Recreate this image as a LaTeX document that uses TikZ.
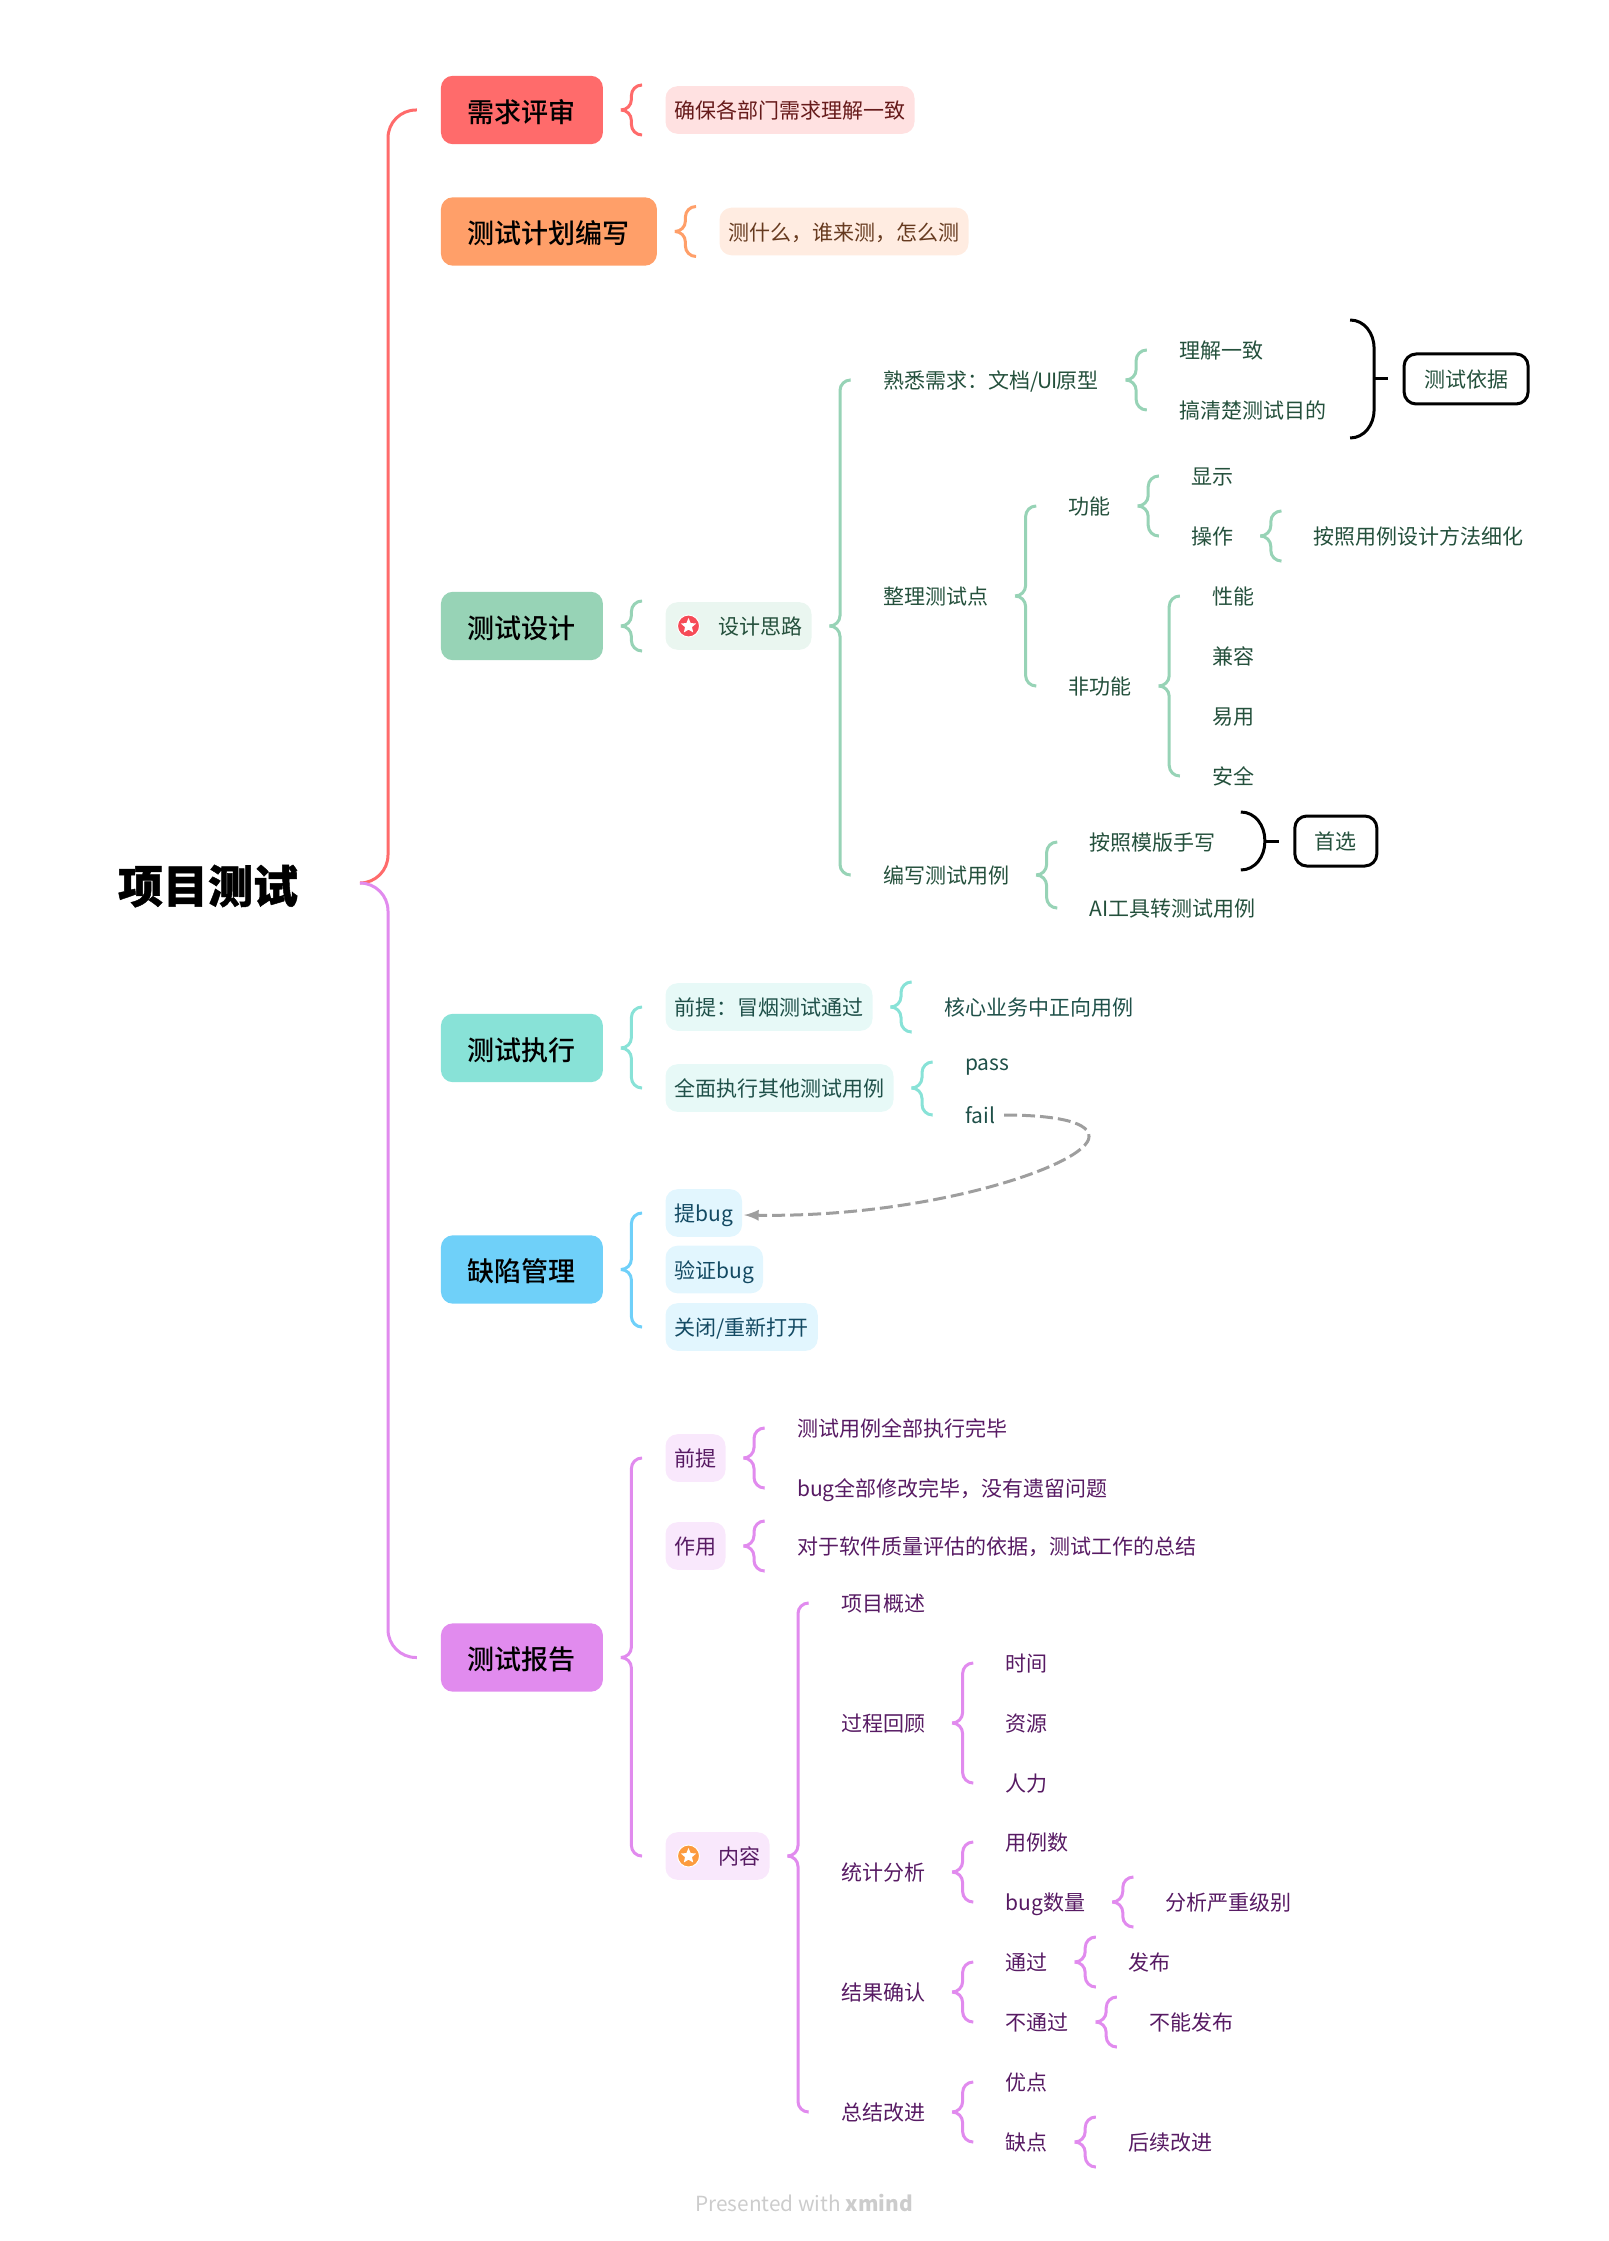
\documentclass[tikz,border=0pt]{standalone}
\usepackage{fontspec}
\setmainfont{Noto Sans CJK SC}
\newfontfamily\topicfont{Noto Sans CJK SC Medium}
\newfontfamily\rootfont[FakeBold=1]{Noto Sans CJK SC Black}
\usetikzlibrary{positioning,arrows}
\usetikzlibrary{calc,shapes.geometric}

\definecolor{redLine}{HTML}{FF6B6B}
\definecolor{redFill}{HTML}{FFE1E1}
\definecolor{redText}{HTML}{661A1A}
\definecolor{orangeLine}{HTML}{FF9F69}
\definecolor{orangeFill}{HTML}{FFECE1}
\definecolor{orangeText}{HTML}{663A1F}
\definecolor{greenLine}{HTML}{97D3B6}
\definecolor{greenFill}{HTML}{EAF6F0}
\definecolor{greenText}{HTML}{24503C}
\definecolor{tealLine}{HTML}{88E2D7}
\definecolor{tealFill}{HTML}{E7F9F7}
\definecolor{tealText}{HTML}{1F5049}
\definecolor{blueLine}{HTML}{6FD0F9}
\definecolor{blueFill}{HTML}{E2F6FE}
\definecolor{blueText}{HTML}{134A63}
\definecolor{purpleLine}{HTML}{E18BEE}
\definecolor{purpleFill}{HTML}{F9E8FC}
\definecolor{purpleText}{HTML}{571A63}
\definecolor{badgeRed}{HTML}{F64B57}
\definecolor{badgeOrange}{HTML}{FC9B3E}

% one half of a brace, from a parent to a child
\newcommand{\arm}[4][0]{%
  \path [flow, draw=#2] (#3.east) ++(9pt,0) -- ++(5.25pt,0) |- ($(#4.west)+(-24,#1)$);}
\newcommand{\solo}[3]{\arm[25]{#1}{#2}{#3}\arm[-25]{#1}{#2}{#3}}
% the black closing brace in front of a label box
\newcommand{\sumbrace}[2]{%
  \path [sumLine] ($(#1.west)+(-54,#2)$) to[out=0,in=90] ($(#1.west)+(-30,#2-28)$)
                  -- ($(#1.west)+(-30,28-#2)$) to[out=-90,in=0] ($(#1.west)+(-54,-#2)$);
  \path [sumLine] ($(#1.west)+(-30,0)$) -- ($(#1.west)+(-16,0)$);}

\begin{document}
\begin{tikzpicture}[x=0.5pt,y=0.5pt]
  \newdimen\dist
  \dist=31.3pt

  \useasboundingbox (0,0) rectangle (1609,-2241);

  \tikzstyle{lift} = [yshift=#1*0.5pt];
  \tikzstyle{rootTitle} = [
    % Just text!
    font=\rootfont\fontsize{22.5pt}{26pt}\selectfont,
    inner xsep=22pt, inner ysep=0pt, outer sep=0pt,
    text height=21.2pt, text depth=1.3pt
  ];
  \tikzstyle{topic} = [
    % The shape:
    rectangle, minimum height=34.2pt, rounded corners=6pt,
    inner xsep=13.5pt, inner ysep=0pt, outer sep=0pt,
    % The filling:
    fill=#1Line,
    % Font:
    font=\topicfont\fontsize{13.5pt}{16pt}\selectfont,
    text height=12.8pt, text depth=0.7pt
  ];
  \tikzstyle{leaf} = [
    % Just text!
    text=#1Text,
    rectangle, minimum height=23.8pt,
    inner xsep=4.5pt, inner ysep=0pt, outer sep=0pt,
    font=\fontsize{10.5pt}{13pt}\selectfont,
    text height=9.6pt, text depth=0.9pt
  ];
  \tikzstyle{chip} = [
    leaf=#1,
    % The shape:
    rounded corners=6pt,
    % The filling:
    fill=#1Fill
  ];
  \tikzstyle{labelBox} = [
    leaf=green,
    % The shape:
    minimum height=25pt, rounded corners=6pt, inner xsep=10pt,
    % The border:
    draw=black, line width=1.5pt,
    text=greenText
  ];
  \tikzstyle{badge} = [
    circle, minimum size=11pt, inner sep=0pt, outer sep=0pt,
    draw=white, line width=0.5pt
  ];
  \tikzstyle{badgeStar} = [
    star, star points=5, star point ratio=2.2, minimum size=8pt, inner sep=0pt,
    fill=white
  ];
  \tikzstyle{flow} = [
    draw = black,
    line width=1.5pt,
    rounded corners=5.25pt
  ];
  \tikzstyle{bigFlow} = [
    draw = black,
    line width=1.5pt,
    rounded corners=14pt
  ];
  \tikzstyle{sumLine} = [
    draw = black,
    line width=1.5pt
  ];
  \tikzstyle{jump} = [
    draw = black!38,
    line width=1.5pt,
    dash pattern=on 6.5pt off 2.5pt,
    -latex
  ];
  \tikzstyle{credit} = [
    font=\fontsize{10.4pt}{13pt}\selectfont,
    text=black!20
  ];

  \node [rootTitle] at (208,-883) (root) {项目测试};

  % The six topics
  \node [topic=red, right = 1.58*\dist of root, lift=773] (review) {需求评审};
  \node [topic=orange, right = 1.58*\dist of root, lift=651.5] (plan) {测试计划编写};
  \node [topic=green, right = 1.58*\dist of root, lift=257] (design) {测试设计};
  \node [topic=teal, right = 1.58*\dist of root, lift=-165] (run) {测试执行};
  \node [topic=blue, right = 1.58*\dist of root, lift=-386.5] (defect) {缺陷管理};
  \node [topic=purple, right = 1.58*\dist of root, lift=-774.5] (report) {测试报告};

  \node [chip=red, right = \dist of review] (agree) {确保各部门需求理解一致};
  \node [chip=orange, right = \dist of plan] (what) {测什么，谁来测，怎么测};

  % Test design
  \node [chip=green, right = \dist of design] (idea) {\hspace*{22pt}设计思路};
  \node [badge, fill=badgeRed, right = 23 of idea.west, anchor=center] (ideaBadge) {};
  \node [badgeStar] at (ideaBadge) (ideaStar) {};
  \node [leaf=green, right = \dist of idea, lift=246] (learn) {熟悉需求：文档/\kern-0.5pt U\kern-0.5pt I\kern-0.5pt 原型};
  \node [leaf=green, right = \dist of idea, lift=30] (points) {整理测试点};
  \node [leaf=green, right = \dist of idea, lift=-249] (write) {编写测试用例};
  \node [leaf=green, right = \dist of learn, lift=30] (same) {理解一致};
  \node [leaf=green, right = \dist of learn, lift=-30] (goal) {搞清楚测试目的};
  \node [labelBox, right = 1.1*\dist of goal, lift=31] (basis) {测试依据};
  \node [leaf=green, right = \dist of points, lift=90] (func) {功能};
  \node [leaf=green, right = \dist of points, lift=-90] (nonfunc) {非功能};
  \node [leaf=green, right = \dist of func, lift=30] (show) {显示};
  \node [leaf=green, right = \dist of func, lift=-30] (act) {操作};
  \node [leaf=green, right = \dist of act] (refine) {按照用例设计方法细化};
  \node [leaf=green, right = \dist of nonfunc, lift=90] (perf) {性能};
  \node [leaf=green, right = \dist of nonfunc, lift=30] (compat) {兼容};
  \node [leaf=green, right = \dist of nonfunc, lift=-30] (ease) {易用};
  \node [leaf=green, right = \dist of nonfunc, lift=-90] (safe) {安全};
  \node [leaf=green, right = \dist of write, lift=33] (hand) {按照模版手写};
  \node [leaf=green, right = \dist of write, lift=-33] (aitool) {AI工具转测试用例};
  \node [labelBox, right = 1.12*\dist of hand, lift=1] (first) {首选};

  % Test run
  \node [chip=teal, right = \dist of run, lift=41] (smoke) {前提：冒烟测试通过};
  \node [chip=teal, right = \dist of run, lift=-40] (full) {全面执行其他测试用例};
  \node [leaf=teal, right = \dist of smoke] (core) {核心业务中正向用例};
  \node [leaf=teal, right = \dist of full, lift=26] (pass) {pass};
  \node [leaf=teal, right = \dist of full, lift=-27] (fail) {fail};

  % Defects
  \node [chip=blue, right = \dist of defect, lift=56.5] (raise) {提bug};
  \node [chip=blue, right = \dist of defect] (verify) {验证bug};
  \node [chip=blue, right = \dist of defect, lift=-57.5] (close) {关闭/重新打开};
  \coordinate [right = 85 of fail.east, lift=-21.5] (bend);

  % Test report
  \node [chip=purple, right = \dist of report, lift=199.5] (premise) {前提};
  \node [chip=purple, right = \dist of report, lift=111.5] (use) {作用};
  \node [chip=purple, right = \dist of report, lift=-198.5] (content) {\hspace*{22pt}内容};
  \node [badge, fill=badgeOrange, right = 23 of content.west, anchor=center] (contentBadge) {};
  \node [badgeStar] at (contentBadge) (contentStar) {};
  \node [leaf=purple, right = \dist of premise, lift=30] (allrun) {测试用例全部执行完毕};
  \node [leaf=purple, right = \dist of premise, lift=-30] (allfix) {bug全部修改完毕，没有遗留问题};
  \node [leaf=purple, right = \dist of use] (basisof) {对于软件质量评估的依据，测试工作的总结};
  \node [leaf=purple, right = \dist of content, lift=253] (outline) {项目概述};
  \node [leaf=purple, right = \dist of content, lift=133] (review2) {过程回顾};
  \node [leaf=purple, right = \dist of content, lift=-16] (stats) {统计分析};
  \node [leaf=purple, right = \dist of content, lift=-136] (result) {结果确认};
  \node [leaf=purple, right = \dist of content, lift=-256] (improve) {总结改进};
  \node [leaf=purple, right = \dist of review2, lift=60] (time) {时间};
  \node [leaf=purple, right = \dist of review2] (resource) {资源};
  \node [leaf=purple, right = \dist of review2, lift=-60] (staff) {人力};
  \node [leaf=purple, right = \dist of stats, lift=30] (cases) {用例数};
  \node [leaf=purple, right = \dist of stats, lift=-30] (bugs) {bug数量};
  \node [leaf=purple, right = \dist of bugs] (level) {分析严重级别};
  \node [leaf=purple, right = \dist of result, lift=30] (ok) {通过};
  \node [leaf=purple, right = \dist of result, lift=-30] (notok) {不通过};
  \node [leaf=purple, right = \dist of ok] (ship) {发布};
  \node [leaf=purple, right = \dist of notok] (noship) {不能发布};
  \node [leaf=purple, right = \dist of improve, lift=30] (merit) {优点};
  \node [leaf=purple, right = \dist of improve, lift=-30] (flaw) {缺点};
  \node [leaf=purple, right = \dist of flaw] (later) {后续改进};

  \node [credit] at (804,-2203) (footer) {Presented with \textbf{xmind}};

  % Braces
  \path [bigFlow, draw=redLine] (root.east) ++(9pt,0) -- ++(14pt,0) |- ($(review.west)+(-24,0)$);
  \path [bigFlow, draw=purpleLine] (root.east) ++(9pt,0) -- ++(14pt,0) |- ($(report.west)+(-24,0)$);

  \solo{redLine}{review}{agree}
  \solo{orangeLine}{plan}{what}

  \solo{greenLine}{design}{idea}
  \arm{greenLine}{idea}{learn}
  \arm{greenLine}{idea}{write}
  \arm{greenLine}{learn}{same}
  \arm{greenLine}{learn}{goal}
  \arm{greenLine}{points}{func}
  \arm{greenLine}{points}{nonfunc}
  \arm{greenLine}{func}{show}
  \arm{greenLine}{func}{act}
  \solo{greenLine}{act}{refine}
  \arm{greenLine}{nonfunc}{perf}
  \arm{greenLine}{nonfunc}{safe}
  \arm{greenLine}{write}{hand}
  \arm{greenLine}{write}{aitool}
  \sumbrace{basis}{59}
  \sumbrace{first}{29}

  \arm{tealLine}{run}{smoke}
  \arm{tealLine}{run}{full}
  \solo{tealLine}{smoke}{core}
  \arm{tealLine}{full}{pass}
  \arm{tealLine}{full}{fail}

  \arm{blueLine}{defect}{raise}
  \arm{blueLine}{defect}{close}

  \arm{purpleLine}{report}{premise}
  \arm{purpleLine}{report}{content}
  \arm{purpleLine}{premise}{allrun}
  \arm{purpleLine}{premise}{allfix}
  \solo{purpleLine}{use}{basisof}
  \arm{purpleLine}{content}{outline}
  \arm{purpleLine}{content}{improve}
  \arm{purpleLine}{review2}{time}
  \arm{purpleLine}{review2}{staff}
  \arm{purpleLine}{stats}{cases}
  \arm{purpleLine}{stats}{bugs}
  \solo{purpleLine}{bugs}{level}
  \arm{purpleLine}{result}{ok}
  \arm{purpleLine}{result}{notok}
  \solo{purpleLine}{ok}{ship}
  \solo{purpleLine}{notok}{noship}
  \arm{purpleLine}{improve}{merit}
  \arm{purpleLine}{improve}{flaw}
  \solo{purpleLine}{flaw}{later}

  % The jump from a failed case to a new bug
  \path [jump] (fail.east) .. controls +(40,0) and +(0,17) .. (bend)
               .. controls +(0,-28) and +(186,-3) .. ($(raise.east)+(2,-2)$);
\end{tikzpicture}
\end{document}
